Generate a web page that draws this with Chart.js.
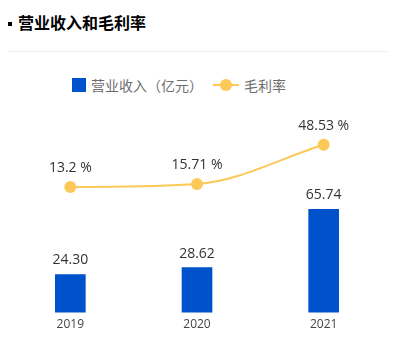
<!DOCTYPE html>
<html lang="zh-CN">
<head>
<meta charset="utf-8">
<title>营业收入和毛利率</title>
<script src="https://cdn.jsdelivr.net/npm/chart.js@4/dist/chart.umd.min.js"></script>
<style>
  html, body { margin: 0; padding: 0; background: #fff; }
  body { width: 396px; height: 350px; position: relative; overflow: hidden;
         font-family: "Noto Sans CJK SC", "Noto Sans", sans-serif; }
  .title { position: absolute; left: 8px; top: 10px; height: 24px; line-height: 24px;
           font-size: 16px; font-weight: bold; color: #000; white-space: nowrap; }
  .title .dot { display: inline-block; width: 4px; height: 4px; background: #000;
                vertical-align: middle; margin-right: 6px; position: relative; top: -1px; }
  .divider { position: absolute; left: 8px; top: 51px; width: 379px; height: 1px; background: #ececec; }
  .legend { position: absolute; left: 72px; top: 75px; height: 20px; display: flex;
            align-items: center; font-size: 14px; color: #6e6e6e; white-space: nowrap; }
  .legend .item { display: flex; align-items: center; }
  .legend .sq { width: 14px; height: 14px; margin-right: 5px; }
  .legend .ln { position: relative; width: 26px; height: 14px; margin: 0 5px 0 10px; }
  .legend .ln::before { content: ""; position: absolute; left: 0; right: 0; top: 6px; height: 2px; background: var(--c); }
  .legend .ln::after { content: ""; position: absolute; left: 7px; top: 1px; width: 12px; height: 12px;
                       border-radius: 50%; background: var(--c); }
  #wrap { position: absolute; left: 0; top: 0; width: 396px; height: 350px; }
</style>
</head>
<body>
<div class="title"><span class="dot"></span>营业收入和毛利率</div>
<div class="divider"></div>
<div class="legend" id="legend"></div>
<div id="wrap"><canvas id="chart" width="396" height="350"></canvas></div>
<script>
// Years, revenue (亿元) and gross margin (%)
const years = ['2019', '2020', '2021'];
const revenue = [24.30, 28.62, 65.74];
const grossMargin = [13.2, 15.71, 48.53];
const revenueLabels = ['24.30', '28.62', '65.74'];
const marginLabels = ['13.2 %', '15.71 %', '48.53 %'];

const seriesNames = ['营业收入（亿元）', '毛利率'];
const BAR_COLOR = '#0052cc';
const LINE_COLOR = '#fcc958';
const NUM_FONT = '"Open Sans", "Noto Sans", sans-serif';

// Legend built from the series names and colours
const legend = document.getElementById('legend');
legend.innerHTML =
  '<span class="item"><span class="sq" style="background:' + BAR_COLOR + '"></span>' + seriesNames[0] + '</span>' +
  '<span class="item"><span class="ln" style="--c:' + LINE_COLOR + '"></span>' + seriesNames[1] + '</span>';

// Value labels above bars and line points
const valueLabels = {
  id: 'valueLabels',
  afterDatasetsDraw(chart) {
    const ctx = chart.ctx;
    ctx.save();
    ctx.font = '14px ' + NUM_FONT;
    ctx.fillStyle = '#333';
    ctx.textAlign = 'center';
    ctx.textBaseline = 'middle';
    chart.data.datasets.forEach((ds, i) => {
      const meta = chart.getDatasetMeta(i);
      meta.data.forEach((el, j) => {
        const offset = ds.type === 'line' ? 19 : 14;
        ctx.fillText(ds.valueText[j], el.x, el.y - offset);
      });
    });
    ctx.restore();
  }
};

new Chart(document.getElementById('chart'), {
  data: {
    labels: years,
    datasets: [
      {
        type: 'line',
        label: seriesNames[1],
        data: grossMargin,
        valueText: marginLabels,
        yAxisID: 'yRate',
        borderColor: LINE_COLOR,
        backgroundColor: LINE_COLOR,
        borderWidth: 2,
        pointRadius: 6,
        pointHoverRadius: 6,
        pointBorderWidth: 0,
        cubicInterpolationMode: 'monotone',
        order: 0
      },
      {
        type: 'bar',
        label: seriesNames[0],
        data: revenue,
        valueText: revenueLabels,
        yAxisID: 'yRev',
        backgroundColor: BAR_COLOR,
        barThickness: 30,
        order: 1
      }
    ]
  },
  options: {
    responsive: false,
    animation: false,
    layout: { padding: { left: 7, right: 9, top: 100, bottom: 13 } },
    plugins: { legend: { display: false }, tooltip: { enabled: false } },
    scales: {
      x: {
        offset: true,
        grid: { display: false, drawTicks: false },
        border: { display: false },
        ticks: { color: '#444', font: { size: 12, family: NUM_FONT }, padding: 5 }
      },
      yRev: {
        display: false,
        min: 0,
        max: 135.5
      },
      yRate: {
        display: false,
        min: -91.6,
        max: 85.9
      }
    }
  },
  plugins: [valueLabels]
});
</script>
</body>
</html>
